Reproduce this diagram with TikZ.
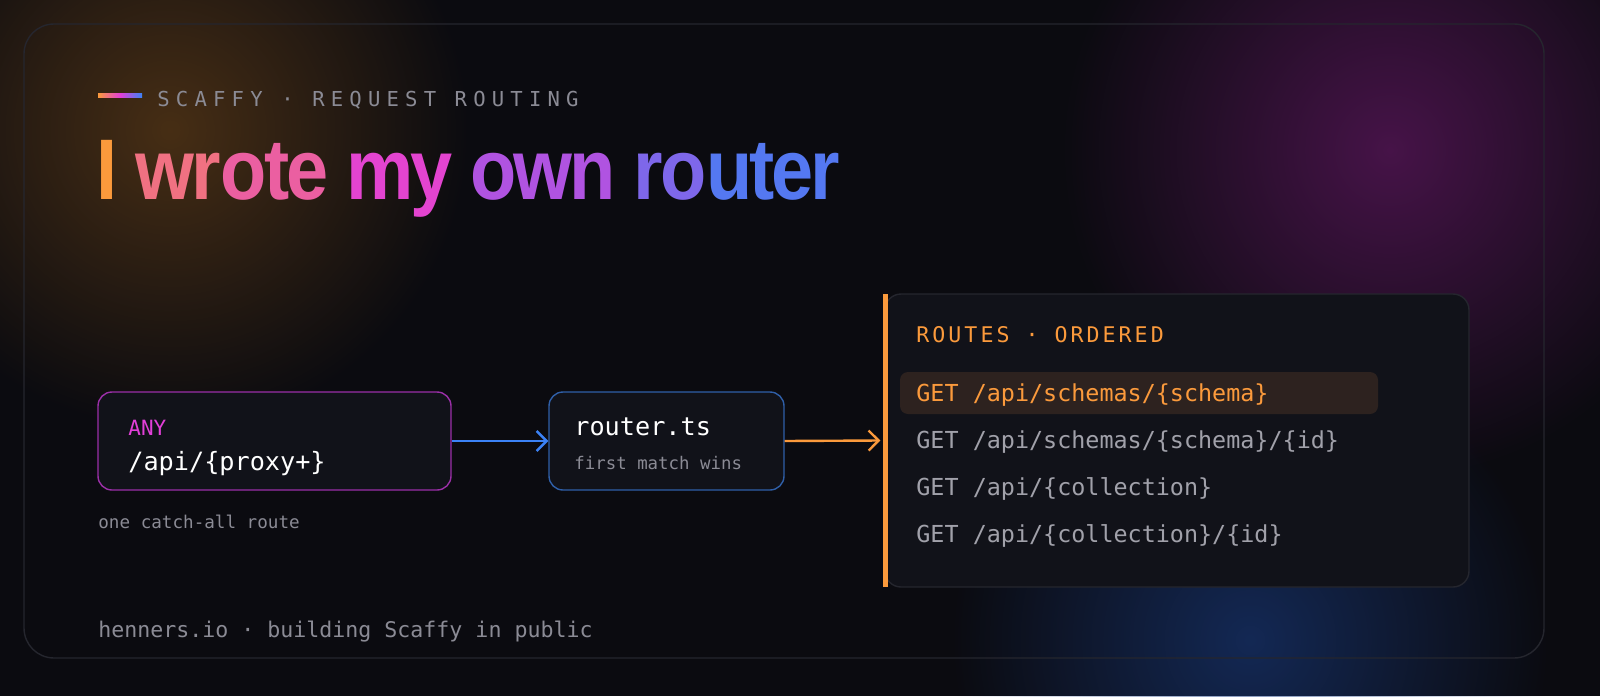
\documentclass[tikz,border=0pt]{standalone}
\usepackage{fontspec}
\setmainfont{Liberation Sans}
\setmonofont{DejaVu Sans Mono}
\usetikzlibrary{arrows.meta,positioning,fadings}
\definecolor{bgdark}{HTML}{0B0B10}
\definecolor{panelbg}{HTML}{111219}
\definecolor{framegray}{HTML}{25262E}
\definecolor{mutedtxt}{HTML}{8B8B95}
\definecolor{routetxt}{HTML}{A1A1AA}
\definecolor{hotorange}{HTML}{FB9A3C}
\definecolor{hotpink}{HTML}{E23FD8}
\definecolor{hotblue}{HTML}{3B82F6}
\definecolor{anyedge}{HTML}{9B2FA8}
\definecolor{tsedge}{HTML}{2F5FA8}
\definecolor{rowhl}{HTML}{2D221F}
\tikzfading[name=glow, inner color=transparent!0, outer color=transparent!100]
\tikzstyle{box}=[draw, rounded corners=7pt, fill=panelbg, line width=0.7pt, inner sep=0pt]
\tikzstyle{mono}=[font=\ttfamily, anchor=base west, inner sep=0pt]
\tikzstyle{route}=[mono, font=\ttfamily\fontsize{11.7}{13}\selectfont, text=routetxt]
\tikzstyle{flow}=[line width=1.2pt, -{Straight Barb[length=5pt, width=10pt, line width=1.2pt]}]
\begin{document}
\begin{tikzpicture}[x=0.5pt, y=-0.5pt]
        \useasboundingbox (0,0) rectangle (1600,696);
        \fill[bgdark] (0,0) rectangle (1600,696);
        % background glows
        \fill[color={rgb,255:red,120;green,75;blue,25}, path fading=glow, fill opacity=0.55] (170,130) circle (300);
        \fill[color={rgb,255:red,110;green,25;blue,110}, path fading=glow, fill opacity=0.6] (1390,150) circle (330);
        \fill[color={rgb,255:red,25;green,60;blue,130}, path fading=glow, fill opacity=0.6] (1250,640) circle (300);
        \draw[framegray, line width=0.7pt, rounded corners=15pt] (24,24) rectangle (1544,658);
        % heading
        \shade[left color=hotorange, right color=hotblue, middle color=hotpink] (98,93.5) rectangle (142,97.5);
        \node[mono, font=\ttfamily\fontsize{10.3}{12}\selectfont\addfontfeature{LetterSpace=30}, text=mutedtxt] (kicker) at (157,106) {SCAFFY · REQUEST ROUTING};
        \node[anchor=base west, inner sep=0pt, font=\bfseries\fontsize{43}{48}\selectfont\addfontfeature{LetterSpace=-4}] (title) at (96,199)
          {\scalebox{0.88}[1]{\textcolor{hotorange}{I} \textcolor{hotorange!55!hotpink}{wr}\textcolor{hotorange!35!hotpink}{ote} \textcolor{hotpink!95!hotorange}{my} \textcolor{hotpink!70!hotblue}{own} \textcolor{hotpink!40!hotblue}{ro}\textcolor{hotpink!15!hotblue}{uter}}};
        % left nodes
        \node[box, draw=anyedge, minimum width=176.5pt, minimum height=49pt] (anybox) at (274.5,441) {};
        \node[mono, font=\ttfamily\fontsize{10.5}{12}\selectfont, text=hotpink] (anyverb) at (128,435) {ANY};
        \node[mono, font=\ttfamily\fontsize{12.6}{14}\selectfont, text=white] (anypath) at (128,470) {/api/\{proxy+\}};
        \node[mono, font=\ttfamily\fontsize{8.8}{10}\selectfont, text=mutedtxt] (anynote) at (98,528) {one catch-all route};
        \node[box, draw=tsedge, minimum width=117.5pt, minimum height=49pt] (tsbox) at (666.5,441) {};
        \node[mono, font=\ttfamily\fontsize{12.6}{14}\selectfont, text=white] (tsname) at (574,435) {router.ts};
        \node[mono, font=\ttfamily\fontsize{8.7}{10}\selectfont, text=mutedtxt] (tsnote) at (574,469) {first match wins};
        % routes panel
        \node[box, draw=framegray, rounded corners=8pt, minimum width=292pt, minimum height=146.5pt] (routes) at (1177,440.5) {};
        \fill[hotorange] (883,294) rectangle (888,587);
        \fill[rowhl, rounded corners=4pt] (900,372) rectangle (1378,414);
        \node[mono, font=\ttfamily\fontsize{10.8}{12}\selectfont\addfontfeature{LetterSpace=14}, text=hotorange] (rhead) at (916,342) {ROUTES · ORDERED};
        \node[route, text=hotorange] (r1) at (916,401) {GET /api/schemas/\{schema\}};
        \node[route] (r2) at (916,448) {GET /api/schemas/\{schema\}/\{id\}};
        \node[route] (r3) at (916,495) {GET /api/\{collection\}};
        \node[route] (r4) at (916,542) {GET /api/\{collection\}/\{id\}};
        % connectors
        \draw[flow, hotblue] (anybox.east) -- (tsbox.west);
        \draw[flow, hotorange] (tsbox.east) -- ([xshift=-2pt]routes.west);
        % footer
        \node[mono, font=\ttfamily\fontsize{10.8}{12}\selectfont, text=mutedtxt] (footer) at (98,637) {henners.io · building Scaffy in public};
\end{tikzpicture}
\end{document}
